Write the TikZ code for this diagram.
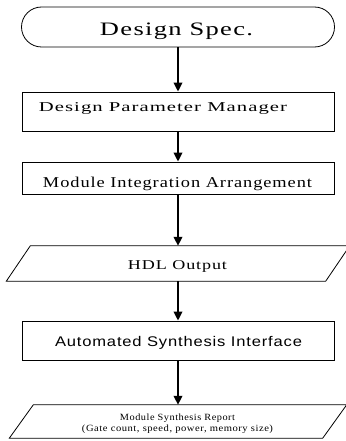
\documentclass[tikz,border=0pt]{standalone}
\usepackage{graphicx}
\usepackage{fontspec}
\setmainfont{Liberation Serif}
\newfontfamily\sansfam{Liberation Sans}
\usetikzlibrary{arrows.meta,shapes.misc}
% widen a text with letter spacing, then stretch it horizontally to a given width
\newcommand{\hfit}[2]{\resizebox{#1}{\height}{\addfontfeature{LetterSpace=5}#2}}
\begin{document}
\begin{tikzpicture}[x=1pt,y=-1pt,
  outline/.style={draw=black,line width=0.8pt},
  procbox/.style={outline,rectangle,minimum width=312pt,inner sep=0pt},
  term/.style={outline,rounded rectangle,minimum width=313pt,minimum height=40pt,inner sep=0pt},
  iobox/.style={rectangle,minimum width=319pt,inner sep=0pt},
  txt/.style={anchor=base,inner sep=0pt},
  flow/.style={line width=2pt,-{Triangle[width=8.5pt,length=9pt]}}
]
\useasboundingbox (0,0) rectangle (345,441);

% shapes
\node[term] (spec) at (178,27) {};
\node[procbox,minimum height=39pt] (dpm) at (178,111.5) {};
\node[procbox,minimum height=32pt] (mia) at (178,178) {};
\node[iobox,minimum height=35pt] (hdl) at (178,263.5) {};
\draw[outline] ([xshift=12pt]hdl.north west) -- ([xshift=12pt]hdl.north east)
  -- ([xshift=-12pt]hdl.south east) -- ([xshift=-12pt]hdl.south west) -- cycle;
\node[procbox,minimum height=39pt] (asi) at (178,340.5) {};
\node[iobox,minimum height=33pt,minimum width=313pt] (rep) at (178,421.5) {};
\draw[outline] ([xshift=12pt]rep.north west) -- ([xshift=12pt]rep.north east)
  -- ([xshift=-12pt]rep.south east) -- ([xshift=-12pt]rep.south west) -- cycle;

% texts
\node[txt,font=\fontsize{19}{19}\selectfont] (specT) at (176.5,36) {\hfit{153pt}{Design Spec.}};
\node[txt,font=\fontsize{13.5}{13.5}\selectfont] (dpmT) at (163,111) {\hfit{248pt}{Design Parameter Manager}};
\node[txt,font=\fontsize{15}{15}\selectfont] (miaT) at (177.5,187.3) {\hfit{269pt}{Module Integration Arrangement}};
\node[txt,font=\fontsize{13.5}{13.5}\selectfont] (hdlT) at (177.5,269) {\hfit{99pt}{HDL Output}};
\node[txt,font=\sansfam\fontsize{14}{14}\selectfont] (asiT) at (178.5,346.7) {\hfit{247pt}{Automated Synthesis Interface}};
\node[txt,font=\fontsize{9.5}{9.5}\selectfont] (repT) at (177.5,420.5) {\hfit{115pt}{Module Synthesis Report}};
\node[txt,font=\fontsize{9.5}{9.5}\selectfont] (repT2) at (177.5,431.3) {\hfit{191pt}{(Gate count, speed, power, memory size)}};

% connectors
\draw[flow] (spec) -- (dpm);
\draw[flow] (dpm) -- (mia);
\draw[flow] (mia) -- (hdl);
\draw[flow] (hdl) -- (asi);
\draw[flow] (asi) -- (rep);
\end{tikzpicture}
\end{document}
